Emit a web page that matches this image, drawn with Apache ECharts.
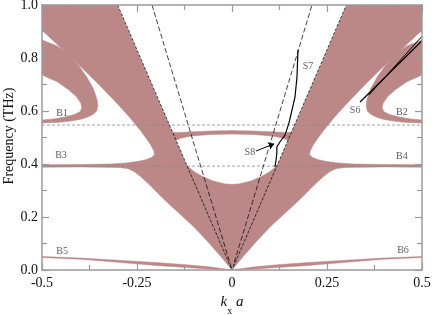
<!DOCTYPE html>
<html><head><meta charset="utf-8">
<script src="https://cdn.jsdelivr.net/npm/echarts@6/dist/echarts.min.js"></script>
<style>html,body{margin:0;padding:0;background:#fff}#c{width:435px;height:315px}</style>
</head><body><div id="c"></div>
<script>
// ---- tick labels ----
const xTickValues = [-0.5, -0.25, 0, 0.25, 0.5];
const xTickLabels = ['-0.5', '-0.25', '0', '0.25', '0.5'];
const yTickValues = [0, 0.2, 0.4, 0.6, 0.8, 1.0];
const yTickLabels = ['0.0', '0.2', '0.4', '0.6', '0.8', '1.0'];
const yAxisTitle = 'Frequency (THz)';

// ---- shaded band regions [k_x a, frequency THz] ----
const bandLeftOutline = [
  [0,0],[-0.03,0.052],[-0.066,0.11],[-0.10,0.162],[-0.14,0.215],[-0.18,0.268],[-0.216,0.32],[-0.24,0.352],
  [-0.258,0.372],[-0.275,0.383],[-0.30,0.387],[-0.40,0.389],[-0.5,0.388],
  [-0.5,0.397],[-0.40,0.398],[-0.32,0.400],[-0.28,0.404],[-0.25,0.409],[-0.225,0.417],[-0.21,0.426],[-0.204,0.437],
  [-0.206,0.45],[-0.213,0.47],[-0.226,0.497],[-0.242,0.528],[-0.27,0.577],[-0.30,0.625],[-0.347,0.695],
  [-0.40,0.77],[-0.45,0.838],[-0.5,0.905],[-0.5,1.0]
];
const bandRightOutline = [
  [0.5,1.0],[0.5,0.905],[0.45,0.838],[0.40,0.77],[0.347,0.695],[0.30,0.625],[0.27,0.577],[0.242,0.528],
  [0.226,0.497],[0.213,0.47],[0.206,0.45],[0.204,0.437],[0.21,0.426],[0.225,0.417],[0.25,0.409],[0.28,0.404],
  [0.32,0.400],[0.40,0.398],[0.5,0.397],
  [0.5,0.388],[0.40,0.389],[0.30,0.387],[0.275,0.383],[0.258,0.372],[0.24,0.352],[0.216,0.32],[0.18,0.268],
  [0.14,0.215],[0.10,0.162],[0.066,0.11],[0.03,0.052],[0,0]
];
// gap between the two light lines above the lower lobe
const centralGap = [
  [-0.301,1.0],[-0.119,0.396],[-0.10,0.374],[-0.08,0.357],[-0.05,0.338],[-0.02,0.327],[0,0.325],
  [0.02,0.327],[0.05,0.338],[0.08,0.357],[0.10,0.374],[0.119,0.396],[0.301,1.0]
];
const arcUpper = [[-0.162,0.52],[-0.14,0.519],[-0.10,0.522],[-0.05,0.525],[0,0.526],[0.05,0.525],[0.10,0.522],[0.14,0.519],[0.162,0.52]];
const arcLower = [[0.152,0.487],[0.135,0.497],[0.11,0.505],[0.06,0.511],[0,0.513],[-0.06,0.511],[-0.11,0.505],[-0.135,0.497],[-0.152,0.487]];
const bandB1 = [
  [-0.5,0.868],[-0.46,0.845],[-0.434,0.819],[-0.405,0.775],[-0.382,0.728],[-0.365,0.685],[-0.355,0.642],
  [-0.353,0.62],[-0.356,0.6],[-0.365,0.588],[-0.378,0.578],[-0.40,0.568],[-0.43,0.561],[-0.46,0.557],[-0.5,0.555],
  [-0.5,0.566],[-0.47,0.570],[-0.44,0.577],[-0.415,0.587],[-0.40,0.597],[-0.395,0.612],[-0.398,0.63],
  [-0.41,0.655],[-0.43,0.68],[-0.46,0.71],[-0.5,0.736]
];
const bandB2 = [
  [0.5,0.868],[0.46,0.845],[0.434,0.819],[0.405,0.775],[0.382,0.728],[0.365,0.685],[0.355,0.642],
  [0.353,0.62],[0.356,0.6],[0.365,0.588],[0.378,0.578],[0.40,0.568],[0.43,0.561],[0.46,0.557],[0.5,0.555],
  [0.5,0.566],[0.47,0.570],[0.44,0.577],[0.415,0.587],[0.40,0.597],[0.395,0.612],[0.398,0.63],
  [0.41,0.655],[0.43,0.68],[0.46,0.71],[0.5,0.736]
];
const bandB5 = [
  [-0.5,0.051],[-0.4,0.045],[-0.3,0.037],[-0.2,0.028],[-0.12,0.02],[-0.06,0.012],[0,0],
  [-0.04,0.002],[-0.08,0.006],[-0.12,0.009],[-0.2,0.017],[-0.3,0.029],[-0.4,0.041],[-0.5,0.047]
];
const bandB6 = [
  [0.5,0.051],[0.4,0.045],[0.3,0.037],[0.2,0.028],[0.12,0.02],[0.06,0.012],[0,0],
  [0.04,0.002],[0.08,0.006],[0.12,0.009],[0.2,0.017],[0.3,0.029],[0.4,0.041],[0.5,0.047]
];

// ---- lines ----
const hLevels = [0.547, 0.392];
const lightLineOuter = [[-0.301,1.0],[0,0],[0.301,1.0]];
const lightLineInner = [[-0.2105,1.0],[0,0],[0.2105,1.0]];
const curveS7 = [[0.1737,0.830],[0.171,0.728],[0.1658,0.653],[0.158,0.604],[0.150,0.555],[0.1395,0.509],
  [0.126,0.483],[0.118,0.464],[0.118,0.442],[0.116,0.415],[0.113,0.389]];
const curveS6a = [[0.337,0.634],[0.5,0.865]];
const curveS6b = [[0.36,0.66],[0.5,0.882]];
const arrowS8 = [[0.063,0.449],[0.111,0.476]];

// ---- region labels ----
const labelNames = ['B1','B3','B5','B2','B4','B6','S6','S7','S8'];
const labelK = [-0.447,-0.45,-0.447,0.447,0.447,0.45,0.324,0.20,0.047];
const labelF = [0.591,0.434,0.072,0.596,0.43,0.075,0.604,0.77,0.445];

const SHADE = '#bb8787';
const SERIF = '"Liberation Serif","DejaVu Serif",serif';

function polygon(pts, fill, z) {
  return {
    type: 'custom', coordinateSystem: 'cartesian2d', clip: true, silent: true, z: z,
    data: [[pts[0][0], pts[0][1]]],
    renderItem: function (params, api) {
      return { type: 'polygon', shape: { points: pts.map(p => api.coord(p)) },
        style: { fill: fill, stroke: fill, lineWidth: 0.5 } };
    }
  };
}
function line(pts, color, width, type, z) {
  return { type: 'line', data: pts, showSymbol: false, symbol: 'none', silent: true, z: z,
    lineStyle: { color: color, width: width, type: type }, clip: true };
}
function fmt(vals, labs) {
  return function (v) { const i = vals.findIndex(t => Math.abs(t - v) < 1e-9); return i >= 0 ? labs[i] : ''; };
}

const axisCol = '#9a9a9a';
const baseX = {
  type: 'value', min: -0.5, max: 0.5, interval: 0.25,
  axisLine: { show: true, onZero: false, lineStyle: { color: axisCol, width: 1.5 } },
  axisTick: { show: true, inside: true, length: 7, lineStyle: { color: axisCol, width: 1.2 } },
  minorTick: { show: true, splitNumber: 2, length: 5, lineStyle: { color: axisCol, width: 1.2 } },
  splitLine: { show: false }, z: 10
};
const baseY = {
  type: 'value', min: 0, max: 1, interval: 0.2,
  axisLine: { show: true, onZero: false, lineStyle: { color: axisCol, width: 1.5 } },
  axisTick: { show: true, inside: true, length: 7, lineStyle: { color: axisCol, width: 1.2 } },
  minorTick: { show: true, splitNumber: 2, length: 5, lineStyle: { color: axisCol, width: 1.2 } },
  splitLine: { show: false }, z: 10
};

const series = [
  polygon(bandLeftOutline.concat(bandRightOutline), SHADE, 1),
  polygon(bandB1, SHADE, 1),
  polygon(bandB2, SHADE, 1),
  polygon(bandB5, SHADE, 1),
  polygon(bandB6, SHADE, 1),
  polygon(centralGap, '#ffffff', 2),
  polygon(arcUpper.concat(arcLower), SHADE, 3)
];
hLevels.forEach(h => series.push(line([[-0.5, h], [0.5, h]], '#8a8a8a', 0.8, [3, 2], 4)));
series.push(line(lightLineOuter, '#111', 0.8, [3, 1.5], 5));
series.push(line(lightLineInner, '#111', 0.8, [5, 2.5], 5));
series.push(line(curveS7, '#000', 1.2, 'solid', 6));
series.push(line(curveS6a, '#000', 1.2, 'solid', 6));
series.push(line(curveS6b, '#000', 1.0, 'solid', 6));
series.push({
  type: 'line', data: [], silent: true, z: 6,
  markLine: {
    silent: true, animation: false, symbol: ['none', 'arrow'], symbolSize: 6,
    label: { show: false }, lineStyle: { color: '#000', width: 1, type: 'solid' },
    data: [[{ coord: arrowS8[0] }, { coord: arrowS8[1] }]]
  }
});
series.push({
  type: 'scatter', symbolSize: 0, silent: true, z: 7,
  data: labelNames.map((n, i) => ({ name: n, value: [labelK[i], labelF[i]] })),
  label: { show: true, position: 'inside', formatter: '{b}', fontFamily: SERIF, fontSize: 10, color: '#333' }
});

const chart = echarts.init(document.getElementById('c'), null, { renderer: 'canvas' });
chart.setOption({
  animation: false,
  backgroundColor: '#fff',
  grid: { left: 42, right: 13, top: 5, bottom: 45, containLabel: false, outerBoundsMode: 'none' },
  graphic: [{
    type: 'text', x: 9, y: 136, rotation: Math.PI / 2, silent: true,
    style: { text: yAxisTitle, fontFamily: SERIF, fontSize: 14, fill: '#111', align: 'center', verticalAlign: 'middle' }
  }],
  xAxis: [
    Object.assign({}, baseX, {
      position: 'bottom',
      axisLabel: { show: true, margin: 6, fontFamily: SERIF, fontSize: 14, color: '#111', formatter: fmt(xTickValues, xTickLabels) },
      name: '{i|k}{s|x}{i| a}', nameLocation: 'middle', nameGap: 22,
      nameTextStyle: {
        rich: {
          i: { fontFamily: SERIF, fontStyle: 'italic', fontSize: 15, color: '#111', lineHeight: 16, verticalAlign: 'top' },
          s: { fontFamily: SERIF, fontSize: 10, color: '#111', lineHeight: 21, verticalAlign: 'bottom' }
        }
      }
    }),
    Object.assign({}, baseX, { position: 'top', axisLabel: { show: false } })
  ],
  yAxis: [
    Object.assign({}, baseY, {
      position: 'left',
      axisLabel: { show: true, margin: 4, fontFamily: SERIF, fontSize: 14, color: '#111', formatter: fmt(yTickValues, yTickLabels) }
    }),
    Object.assign({}, baseY, { position: 'right', axisLabel: { show: false } })
  ],
  series: series
});
</script></body></html>
